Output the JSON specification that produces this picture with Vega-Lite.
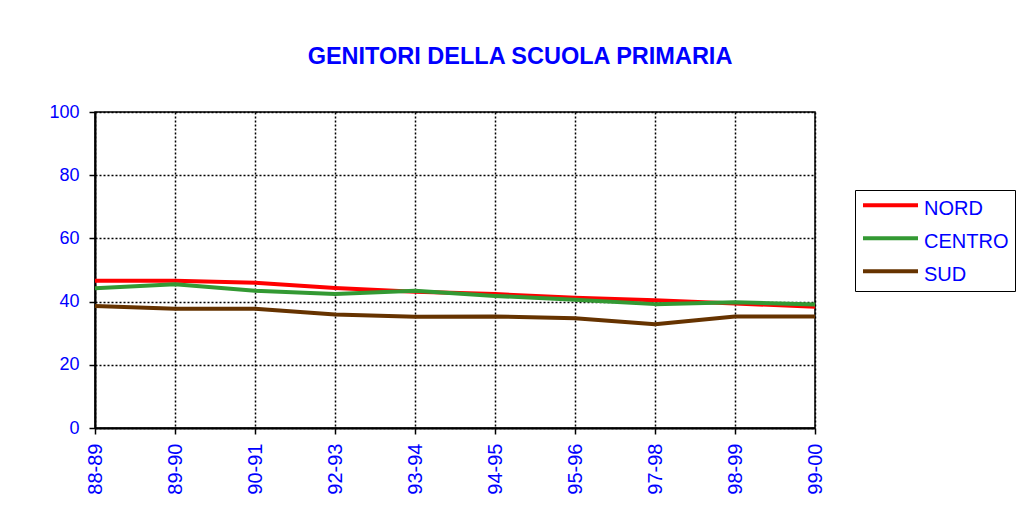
{
  "$schema": "https://vega.github.io/schema/vega-lite/v6.json",
  "width": 720,
  "height": 316,
  "autosize": {"type": "none"},
  "padding": {"left": 95, "top": 112, "right": 205, "bottom": 101},
  "background": "white",
  "title": {
    "text": "GENITORI DELLA SCUOLA PRIMARIA",
    "font": "Liberation Sans",
    "fontSize": 23.5,
    "fontWeight": "bold",
    "color": "#0000FF",
    "anchor": "middle",
    "dx": 65,
    "offset": 35
  },
  "data": {
    "values": [
      {"anno": "88-89", "zona": "NORD", "valore": 46.6},
      {"anno": "89-90", "zona": "NORD", "valore": 46.6},
      {"anno": "90-91", "zona": "NORD", "valore": 46.0},
      {"anno": "92-93", "zona": "NORD", "valore": 44.3},
      {"anno": "93-94", "zona": "NORD", "valore": 43.1},
      {"anno": "94-95", "zona": "NORD", "valore": 42.4},
      {"anno": "95-96", "zona": "NORD", "valore": 41.2},
      {"anno": "97-98", "zona": "NORD", "valore": 40.4},
      {"anno": "98-99", "zona": "NORD", "valore": 39.4},
      {"anno": "99-00", "zona": "NORD", "valore": 38.4},
      {"anno": "88-89", "zona": "CENTRO", "valore": 44.2},
      {"anno": "89-90", "zona": "CENTRO", "valore": 45.5},
      {"anno": "90-91", "zona": "CENTRO", "valore": 43.4},
      {"anno": "92-93", "zona": "CENTRO", "valore": 42.4},
      {"anno": "93-94", "zona": "CENTRO", "valore": 43.4},
      {"anno": "94-95", "zona": "CENTRO", "valore": 41.8},
      {"anno": "95-96", "zona": "CENTRO", "valore": 40.6},
      {"anno": "97-98", "zona": "CENTRO", "valore": 39.2},
      {"anno": "98-99", "zona": "CENTRO", "valore": 39.8},
      {"anno": "99-00", "zona": "CENTRO", "valore": 39.1},
      {"anno": "88-89", "zona": "SUD", "valore": 38.6},
      {"anno": "89-90", "zona": "SUD", "valore": 37.7},
      {"anno": "90-91", "zona": "SUD", "valore": 37.7},
      {"anno": "92-93", "zona": "SUD", "valore": 35.9},
      {"anno": "93-94", "zona": "SUD", "valore": 35.2},
      {"anno": "94-95", "zona": "SUD", "valore": 35.3},
      {"anno": "95-96", "zona": "SUD", "valore": 34.7},
      {"anno": "97-98", "zona": "SUD", "valore": 32.8},
      {"anno": "98-99", "zona": "SUD", "valore": 35.3},
      {"anno": "99-00", "zona": "SUD", "valore": 35.3}
    ]
  },
  "mark": {"type": "line", "strokeWidth": 4, "strokeJoin": "round"},
  "encoding": {
    "x": {
      "field": "anno",
      "type": "ordinal",
      "sort": null,
      "scale": {"type": "point", "padding": 0},
      "axis": {
        "title": null,
        "labelAngle": 270,
        "labelAlign": "right",
        "labelBaseline": "middle",
        "labelFont": "Liberation Sans",
        "labelFontSize": 20,
        "labelColor": "#0000FF",
        "labelPadding": 9,
        "domainColor": "black",
        "domainWidth": 2,
        "tickColor": "black",
        "tickWidth": 1.5,
        "tickSize": 6,
        "grid": true,
        "gridColor": "black",
        "gridDash": [2, 2],
        "gridWidth": 1.5,
        "gridOpacity": 1
      }
    },
    "y": {
      "field": "valore",
      "type": "quantitative",
      "scale": {"domain": [0, 100], "nice": false},
      "axis": {
        "title": null,
        "values": [0, 20, 40, 60, 80, 100],
        "labelFont": "Liberation Sans",
        "labelFontSize": 18,
        "labelColor": "#0000FF",
        "labelPadding": 10,
        "domainColor": "black",
        "domainWidth": 2,
        "tickColor": "black",
        "tickWidth": 1.5,
        "tickSize": 6,
        "grid": true,
        "gridColor": "black",
        "gridDash": [2, 2],
        "gridWidth": 1.5,
        "gridOpacity": 1
      }
    },
    "color": {
      "field": "zona",
      "type": "nominal",
      "scale": {
        "domain": ["NORD", "CENTRO", "SUD"],
        "range": ["#FF0000", "#339933", "#663300"]
      },
      "legend": {
        "title": null,
        "orient": "none",
        "legendX": 760,
        "legendY": 78,
        "symbolType": "M-1,-0.35H4",
        "symbolSize": 484,
        "symbolStrokeWidth": 4,
        "labelFont": "Liberation Sans",
        "labelFontSize": 20,
        "labelColor": "#0000FF",
        "labelOffset": 37,
        "rowPadding": 10,
        "strokeColor": "black",
        "padding": 6
      }
    }
  },
  "config": {
    "view": {"stroke": "black", "strokeWidth": 1.5}
  }
}
